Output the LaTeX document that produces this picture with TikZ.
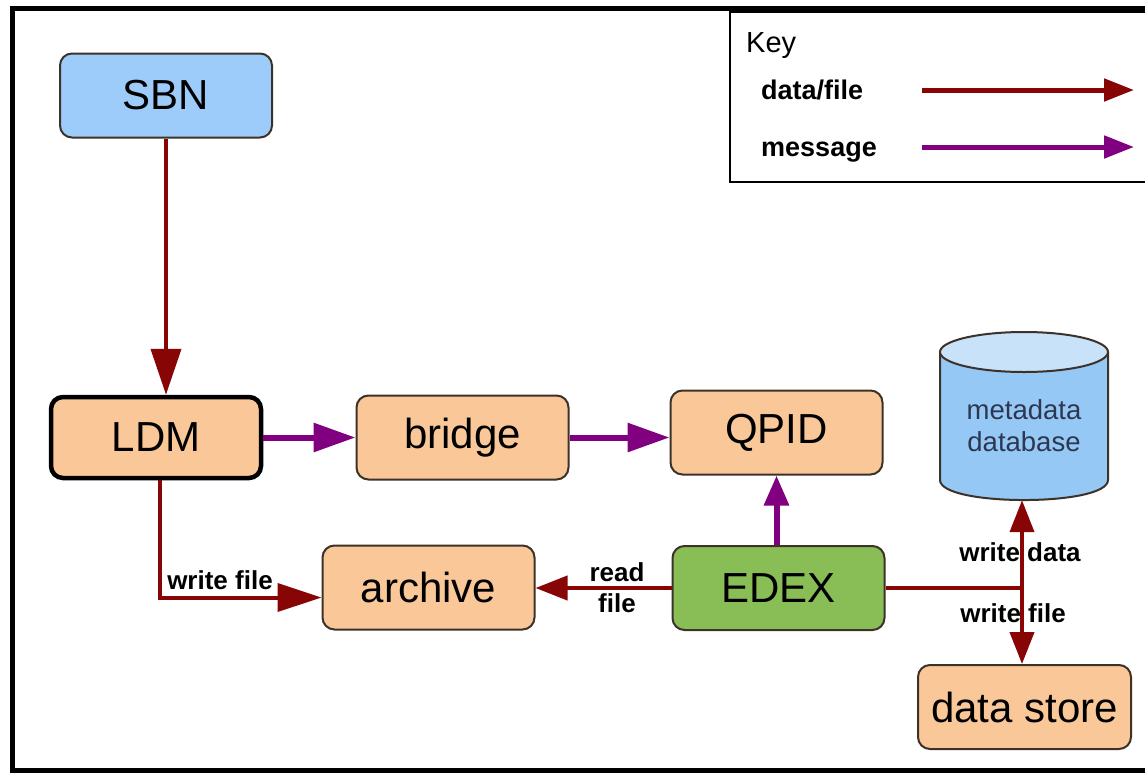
\documentclass[tikz,border=0pt]{standalone}
\usepackage{fontspec}
\setmainfont{Liberation Sans}
\usetikzlibrary{arrows.meta}
\definecolor{dred}{RGB}{135,5,5}
\definecolor{mpurple}{RGB}{128,0,128}
\definecolor{peach}{RGB}{250,200,152}
\definecolor{sbnblue}{RGB}{158,204,250}
\definecolor{dbblue}{RGB}{150,200,245}
\definecolor{dbtop}{RGB}{200,226,250}
\definecolor{edexgreen}{RGB}{137,190,86}
\definecolor{boxline}{RGB}{60,50,40}
\definecolor{dbtext}{RGB}{45,55,80}
\tikzset{
  box/.style={draw=boxline, line width=2pt, rounded corners=12pt, fill=peach,
    minimum width=212pt, minimum height=84pt, inner sep=0pt,
    font=\fontsize{42}{48}\selectfont},
  datafile/.style={draw=dred, line width=4pt, -{Triangle[length=32pt,width=24pt]}},
  msg/.style={draw=mpurple, line width=6pt, -{Triangle[length=42pt,width=28pt]}},
  lbl/.style={font=\bfseries\fontsize{26}{31}\selectfont, inner sep=0pt, align=center},
}
\begin{document}
\begin{tikzpicture}[x=1pt,y=-1pt]
\useasboundingbox (0,0) rectangle (1145,774);
\fill[white] (0,0) rectangle (1145,774);
% frame
\draw[line width=5pt] (1145,8) -- (12,8) -- (12,770) -- (1145,770);
% key
\draw[line width=1.8pt] (1145,12) -- (730,12) -- (730,182) -- (1145,182);
\node[anchor=base west, font=\fontsize{29}{32}\selectfont, inner sep=0pt] (keyt) at (746,52) {Key};
\node[anchor=base west, font=\bfseries\fontsize{27}{30}\selectfont, inner sep=0pt] (kdf) at (761,99) {data/file};
\node[anchor=base west, font=\bfseries\fontsize{27}{30}\selectfont, inner sep=0pt] (kmsg) at (761,156) {message};
\coordinate (kda) at (922,90);
\coordinate (kdb) at (1134,90);
\coordinate (kma) at (922,147);
\coordinate (kmb) at (1134,147);
\draw[draw=dred, line width=5pt, -{Triangle[length=30pt,width=22pt]}] (kda) -- (kdb);
\draw[draw=mpurple, line width=5pt, -{Triangle[length=30pt,width=22pt]}] (kma) -- (kmb);
% nodes
\node[box, fill=sbnblue] (sbn) at (166,95.5) {SBN};
\node[box, draw=black, line width=4.5pt, minimum width=210pt, minimum height=81pt] (ldm) at (156,437.5) {LDM};
\node[box] (bridge) at (462.5,437.5) {bridge};
\node[box] (qpid) at (776.5,432.5) {QPID};
\node[box, fill=edexgreen] (edex) at (778.5,588) {EDEX};
\node[box] (archive) at (428.5,587.5) {archive};
\node[box, minimum width=213pt] (store) at (1024.5,707) {data store};
% database cylinder
\fill[dbblue] (940,352) -- (940,480) .. controls (940,506.7) and (1108,506.7) .. (1108,480) -- (1108,352) -- cycle;
\draw[boxline, line width=2pt] (940,352) -- (940,480) .. controls (940,506.7) and (1108,506.7) .. (1108,480) -- (1108,352);
\draw[boxline, line width=2pt, fill=dbtop] (1024,352) ellipse (84 and 20);
\node[inner sep=0pt, minimum width=168pt, minimum height=148pt, text=dbtext,
  font=\fontsize{27.5}{32}\selectfont, align=center] (db) at (1024,426) {metadata\\database};
% connectors
\draw[datafile, -{Triangle[length=46pt,width=30pt]}] (sbn.south) -- (sbn.south |- ldm.north);
\draw[msg] (ldm.east) -- (bridge.west);
\draw[msg] (bridge.east) -- (bridge.east -| qpid.west);
\draw[msg, -{Triangle[length=30pt,width=24pt]}] (edex.north -| qpid.south) -- (qpid.south);
\draw[datafile, -{Triangle[length=44pt,width=28pt]}] ([xshift=4pt]ldm.south) |- ([yshift=-10pt]archive.west);
\draw[datafile] (edex.west) -- (edex.west -| archive.east);
\coordinate (junc) at (1022,588);
\draw[draw=dred, line width=4pt] (edex.east) -- (junc);
\node[lbl] (wfile1) at (220,580) {write file};
\node[lbl] (rfile) at (617,588) {read\\file};
\node[lbl] (wdata) at (1020,552) {write data};
\node[lbl] (wfile2) at (1013,613) {write file};
\draw[datafile] (junc) -- (junc |- db.south);
\draw[datafile] (junc) -- (junc |- store.north);
\end{tikzpicture}
\end{document}
